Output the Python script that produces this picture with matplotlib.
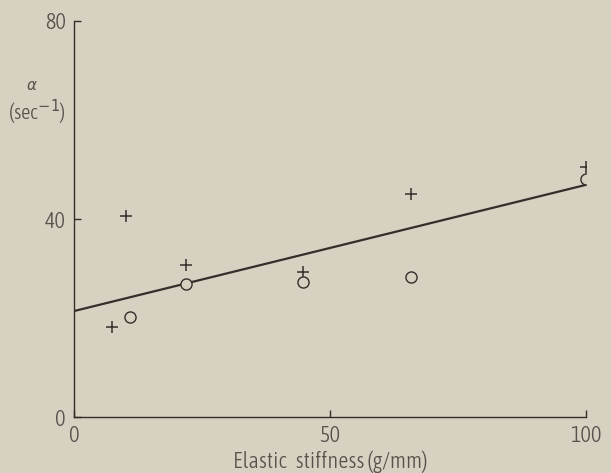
import matplotlib
matplotlib.use("Agg")
import matplotlib.pyplot as plt
from matplotlib import font_manager

# Data
plus_x = [7.5, 10.1, 21.8, 44.8, 65.8, 100.0]
plus_y = [18.2, 40.7, 30.8, 29.2, 45.0, 50.6]
circ_x = [10.9, 21.8, 44.8, 65.8, 100.0]
circ_y = [20.3, 26.9, 27.3, 28.3, 48.0]
fit_x = [0, 100]
fit_y = [21.4, 46.9]
x_ticks = [0, 50, 100]
y_ticks = [0, 40, 80]

# choose a narrow / light font if one is installed
fprops = None
cands = []
for f in font_manager.fontManager.ttflist:
    st = str(f.stretch)
    if ('ondensed' in st or 'arrow' in f.name or 'Condensed' in f.fname or 'Narrow' in f.fname) \
            and f.style == 'normal':
        cands.append(f)
if cands:
    def wkey(f):
        w = f.weight
        if isinstance(w, str):
            w = {'light': 300, 'normal': 400, 'regular': 400, 'book': 400,
                 'medium': 500, 'bold': 700}.get(w, 400)
        return (abs(w - 300), 0 if 'DejaVu' in f.name else 1)
    cands.sort(key=wkey)
    fprops = font_manager.FontProperties(fname=cands[0].fname)
else:
    fprops = font_manager.FontProperties(family='Roboto', weight='light')

bg = "#d7d1c1"
ink = "#332e2b"
txt = "#56514c"
FS = 16

fig = plt.figure(figsize=(6.11, 4.73), dpi=100, facecolor=bg)
ax = fig.add_axes([74/611, 1 - 417/473, (586 - 74)/611, (417 - 21)/473])
ax.set_facecolor(bg)

ax.plot(fit_x, fit_y, color=ink, lw=1.6, solid_capstyle='butt')
ax.plot(plus_x, plus_y, ls='none', marker='+', ms=8, mew=1.1, color=ink)
ax.plot(circ_x, circ_y, ls='none', marker='o', ms=8, mew=1.0, mfc=bg, mec=ink)

ax.set_xlim(0, 100)
ax.set_ylim(0, 80)
ax.set_xticks(x_ticks)
ax.set_yticks(y_ticks)
for s in ['top', 'right']:
    ax.spines[s].set_visible(False)
for s in ['left', 'bottom']:
    ax.spines[s].set_color(ink)
    ax.spines[s].set_linewidth(1.0)
ax.tick_params(direction='in', length=5, width=1.0, color=ink, labelcolor=txt)
ax.tick_params(axis='y', pad=6)
ax.tick_params(axis='x', pad=6)
for lab in ax.get_xticklabels() + ax.get_yticklabels():
    lab.set_fontproperties(fprops)
    lab.set_fontsize(FS)

ax.set_xlabel("Elastic   stiffness (g/mm)", fontproperties=fprops, fontsize=FS,
              color=txt, labelpad=2)
fig.text(32/611, 1 - 85/473, "α", fontsize=11, color=txt, ha='center', va='center',
         family=['DejaVu Sans'], style='italic')
fig.text(37/611, 1 - 112/473, "(sec$^{-1}$)", fontproperties=fprops, fontsize=15,
         color=txt, ha='center', va='center')

fig.savefig("out.png", dpi=100, facecolor=bg)
